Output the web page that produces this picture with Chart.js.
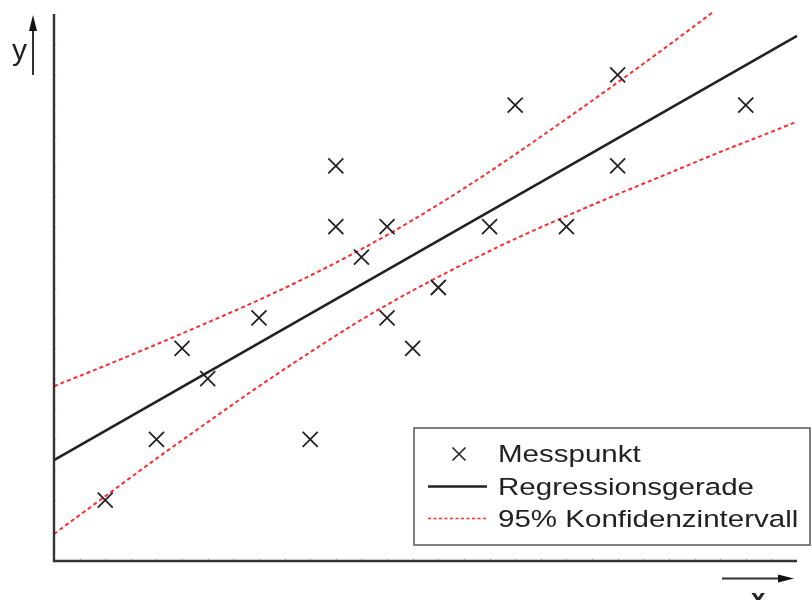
<!DOCTYPE html>
<html>
<head>
<meta charset="utf-8">
<script src="https://cdn.jsdelivr.net/npm/chart.js@4/dist/chart.umd.min.js"></script>
<style>
  html, body { margin: 0; padding: 0; background: #fff; }
  #wrap { width: 812px; height: 600px; }
</style>
</head>
<body>
<div id="wrap"><canvas id="c" width="812" height="600"></canvas></div>
<script>
// Measured points
const pointsX = [2, 4, 5, 6, 8, 10, 11, 11, 12, 13, 13, 14, 15, 17, 18, 20, 22, 22, 27];
const pointsY = [2, 4, 7, 6, 8, 4, 13, 11, 10, 11, 8, 7, 9, 11, 15, 11, 16, 13, 15];

// Regression line end points
const regX = [0, 29];
const regY = [3.32, 17.28];

// 95% confidence band, upper and lower limits
const upperX = [0, 2, 4, 6, 8, 10, 12, 14, 16, 18, 20, 22, 24, 25.7];
const upperY = [5.75, 6.43, 7.13, 7.85, 8.59, 9.39, 10.26, 11.22, 12.26, 13.38, 14.55, 15.75, 16.98, 18.05];
const lowerX = [0, 2, 4, 6, 8, 10, 12, 14, 16, 18, 20, 22, 24, 26, 28, 29];
const lowerY = [0.89, 2.13, 3.37, 4.57, 5.75, 6.87, 7.94, 8.90, 9.78, 10.60, 11.35, 12.07, 12.76, 13.46, 14.12, 14.46];

// Axis ranges
const xRange = [0, 29];
const yRange = [0, 18];

// Legend entries and axis names
const legendLabels = ['Messpunkt', 'Regressionsgerade', '95% Konfidenzintervall'];
const axisNames = ['x', 'y'];

const zip = (xs, ys) => xs.map((x, i) => ({ x: x, y: ys[i] }));

const INK = '#222222';
const AXIS = '#333333';
const BAND = '#ff2b2b';
const FONT = '"Liberation Sans", Arial, sans-serif';

// Axes with arrows, small inner ticks and the legend box
const decorations = {
  id: 'decorations',
  afterDatasetsDraw(chart) {
    const ctx = chart.ctx;
    const xs = chart.scales.x, ys = chart.scales.y;
    const x0 = xs.getPixelForValue(xRange[0]);
    const x1 = xs.getPixelForValue(xRange[1]);
    const y0 = ys.getPixelForValue(yRange[0]);
    const y1 = ys.getPixelForValue(yRange[1]);
    ctx.save();

    // faint unit ticks
    ctx.strokeStyle = '#c4c4c4';
    ctx.lineWidth = 1;
    ctx.beginPath();
    for (let v = xRange[0] + 1; v < xRange[1]; v++) {
      const px = Math.round(xs.getPixelForValue(v)) + 0.5;
      ctx.moveTo(px, y0); ctx.lineTo(px, y0 - 2.5);
    }
    for (let v = yRange[0] + 1; v <= yRange[1]; v++) {
      const py = Math.round(ys.getPixelForValue(v)) + 0.5;
      ctx.moveTo(x0, py); ctx.lineTo(x0 + 2.5, py);
    }
    ctx.stroke();

    // axis lines
    ctx.strokeStyle = AXIS;
    ctx.lineWidth = 2.4;
    ctx.beginPath();
    ctx.moveTo(x0, y1);
    ctx.lineTo(x0, y0);
    ctx.lineTo(x1, y0);
    ctx.stroke();

    // y direction arrow
    ctx.lineWidth = 2;
    ctx.beginPath();
    ctx.moveTo(33, 75); ctx.lineTo(33, 28);
    ctx.stroke();
    ctx.fillStyle = '#111';
    ctx.beginPath();
    ctx.moveTo(33, 15); ctx.lineTo(29, 31); ctx.lineTo(37, 31); ctx.closePath();
    ctx.fill();

    // x direction arrow
    ctx.beginPath();
    ctx.moveTo(722, 578.5); ctx.lineTo(780, 578.5);
    ctx.stroke();
    ctx.beginPath();
    ctx.moveTo(794, 578.5); ctx.lineTo(778, 574.5); ctx.lineTo(778, 582.5); ctx.closePath();
    ctx.fill();

    // axis names
    ctx.fillStyle = INK;
    ctx.textBaseline = 'alphabetic';
    ctx.font = '30px ' + FONT;
    ctx.textAlign = 'left';
    ctx.fillText(axisNames[1], 12, 60);
    ctx.font = 'bold 26px ' + FONT;
    ctx.fillText(axisNames[0], 751, 607);

    // legend box
    const bx = 414, by = 428, bw = 396, bh = 117;
    ctx.fillStyle = '#fff';
    ctx.fillRect(bx, by, bw, bh);
    ctx.strokeStyle = '#555';
    ctx.lineWidth = 1.5;
    ctx.strokeRect(bx, by, bw, bh);

    const rows = [454, 486.5, 518.5];
    // cross marker
    ctx.strokeStyle = INK;
    ctx.lineWidth = 1.6;
    ctx.beginPath();
    ctx.moveTo(452.5, rows[0] - 6.5); ctx.lineTo(465.5, rows[0] + 6.5);
    ctx.moveTo(465.5, rows[0] - 6.5); ctx.lineTo(452.5, rows[0] + 6.5);
    ctx.stroke();
    // solid regression line sample
    ctx.lineWidth = 2.4;
    ctx.beginPath();
    ctx.moveTo(428, rows[1]); ctx.lineTo(487, rows[1]);
    ctx.stroke();
    // dashed band sample
    ctx.strokeStyle = BAND;
    ctx.lineWidth = 1.4;
    ctx.setLineDash([3, 2.5]);
    ctx.beginPath();
    ctx.moveTo(428, rows[2]); ctx.lineTo(487, rows[2]);
    ctx.stroke();
    ctx.setLineDash([]);

    // legend texts, slightly widened
    ctx.fillStyle = INK;
    ctx.font = '24.5px ' + FONT;
    const baselines = [462, 494.5, 527];
    legendLabels.forEach((t, i) => {
      ctx.save();
      ctx.translate(498, baselines[i]);
      ctx.scale(1.205, 1);
      ctx.fillText(t, 0, 0);
      ctx.restore();
    });

    ctx.restore();
  }
};

new Chart(document.getElementById('c'), {
  type: 'scatter',
  data: {
    datasets: [
      {
        label: legendLabels[2],
        data: zip(upperX, upperY),
        showLine: true,
        borderColor: BAND,
        borderWidth: 2,
        borderDash: [4, 3],
        pointRadius: 0,
        cubicInterpolationMode: 'monotone',
        clip: false,
        order: 3
      },
      {
        label: legendLabels[2] + ' ',
        data: zip(lowerX, lowerY),
        showLine: true,
        borderColor: BAND,
        borderWidth: 2,
        borderDash: [4, 3],
        pointRadius: 0,
        cubicInterpolationMode: 'monotone',
        clip: false,
        order: 3
      },
      {
        label: legendLabels[1],
        data: zip(regX, regY),
        showLine: true,
        borderColor: INK,
        borderWidth: 2.6,
        pointRadius: 0,
        clip: false,
        order: 2
      },
      {
        label: legendLabels[0],
        data: zip(pointsX, pointsY),
        showLine: false,
        pointStyle: 'crossRot',
        pointRadius: 10.6,
        pointBorderColor: INK,
        pointBorderWidth: 1.8,
        pointBackgroundColor: INK,
        clip: false,
        order: 1
      }
    ]
  },
  options: {
    responsive: false,
    animation: false,
    devicePixelRatio: 1,
    layout: { padding: { left: 54, right: 15, top: 14, bottom: 39 } },
    plugins: { legend: { display: false }, tooltip: { enabled: false } },
    scales: {
      x: { type: 'linear', min: xRange[0], max: xRange[1], display: false },
      y: { type: 'linear', min: yRange[0], max: yRange[1], display: false }
    }
  },
  plugins: [decorations]
});
</script>
</body>
</html>
